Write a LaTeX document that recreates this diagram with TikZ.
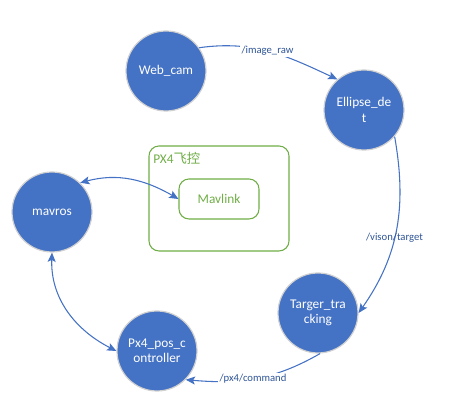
\documentclass[tikz,border=0pt]{standalone}
\usepackage{fontspec}
\setmainfont{Carlito}
\newfontfamily\cjk{Noto Sans CJK SC}
\usetikzlibrary{arrows.meta}
\definecolor{nodeblue}{HTML}{4472C4}
\definecolor{lblblue}{HTML}{2F5597}
\definecolor{pxgreen}{HTML}{70AD47}
\begin{document}
\begin{tikzpicture}[
  x=0.75pt, y=0.75pt,
  circ/.style={circle, fill=nodeblue, draw=white!82!black, line width=0.9pt, minimum size=60pt, inner sep=0pt, align=center, text=white, font=\fontsize{10}{11.5}\selectfont},
  box/.style={rectangle, rounded corners=7.5pt, draw=pxgreen, line width=0.8pt},
  arrow/.style={-{Stealth[length=7pt,width=6pt,inset=1.5pt]}, draw=nodeblue, line width=0.8pt},
  biarrow/.style={{Stealth[length=7pt,width=6pt,inset=1.5pt]}-{Stealth[length=7pt,width=6pt,inset=1.5pt]}, draw=nodeblue, line width=0.8pt},
  lbl/.style={text=lblblue, font=\fontsize{8}{9.5}\selectfont, inner sep=1pt}
]
\useasboundingbox (0,0) rectangle (451,420);
% PX4 board
\draw[box] (149,169) rectangle (289,274);
\node[text=pxgreen, anchor=north west, inner sep=0pt, font=\fontsize{10}{12}\selectfont] (fc) at (153,268) {PX4{\cjk 飞控}};
\node[box, minimum width=60pt, minimum height=30pt, text=pxgreen, font=\fontsize{10}{12}\selectfont] (mavlink) at (219,221) {Mavlink};
% ROS nodes
\node[circ] (web) at (166,349) {Web\_cam};
\node[circ] (ell) at (364,310) {Ellipse\_de\\t};
\node[circ] (mavros) at (52,208) {mavros};
\node[circ] (track) at (318,107) {Targer\_tra\\cking};
\node[circ] (px4) at (157,69) {Px4\_pos\_c\\ontroller};
% topics
\draw[arrow] (web.35) to[out=8, in=155] node[pos=0.48, lbl, fill=white] {/image\_raw} (ell.131);
\draw[arrow] (ell.-41) to[out=-80, in=55] node[pos=0.55, lbl] {/vison/target} (track.east);
\draw[arrow] (track.-87) to[out=210, in=-5] node[pos=0.52, lbl, fill=white] {/px4/command} (px4.-45);
\draw[biarrow] (mavros.46) to[out=15, in=150] (mavlink.west);
\draw[biarrow] (mavros.south) to[out=-92, in=153] (px4.west);
\end{tikzpicture}
\end{document}
